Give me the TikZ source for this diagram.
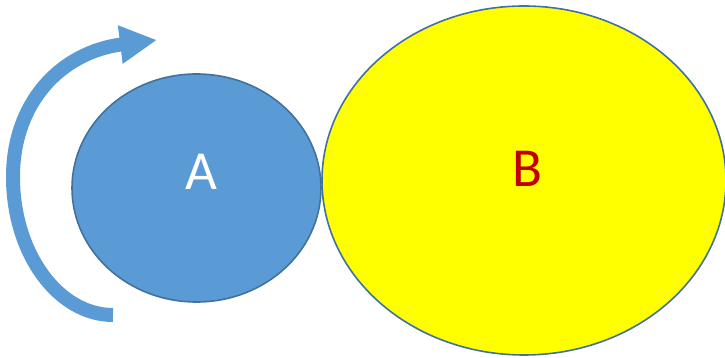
\documentclass[tikz,border=0pt]{standalone}
\usepackage{fontspec}
\setmainfont{Carlito}
\usetikzlibrary{shapes.geometric,arrows.meta}
\definecolor{ablue}{HTML}{5B9BD5}
\definecolor{edgeblue}{HTML}{41719C}
\definecolor{bred}{HTML}{C00000}
\definecolor{byellow}{HTML}{FFFF00}
\tikzset{
  blob/.style={ellipse, draw=edgeblue, line width=1.6pt, inner sep=0pt},
  bigletter/.style={font=\fontsize{55}{55}\selectfont, inner sep=0pt},
  turn/.style={draw=ablue, line width=14pt, -{Triangle[width=36pt,length=37pt]}}
}
\begin{document}
\begin{tikzpicture}[x=1pt,y=1pt]
\useasboundingbox (0,0) rectangle (725,358);
\node[blob, fill=ablue, minimum width=249pt, minimum height=228pt] (A) at (196.5,170) {};
\node[blob, fill=byellow, minimum width=404pt, minimum height=349pt] (B) at (524,177.5) {};
\node[bigletter, text=white] (tA) at (201,186) {A};
\node[bigletter, text=bred] (tB) at (527,189.5) {B};
\coordinate (s) at (113,43);
\coordinate (l) at (13,181);
\coordinate (m) at (121,313.5);
\coordinate (t) at (157,318);
\draw[turn] (s) .. controls (58,43) and (13,105) .. (l)
  .. controls (13,255) and (60,305) .. (m) -- (t);
\end{tikzpicture}
\end{document}
